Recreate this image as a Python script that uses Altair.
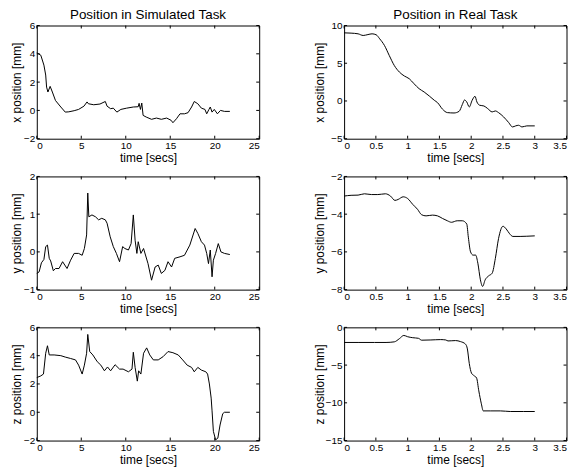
import altair as alt
import pandas as pd

FONT = "Liberation Sans"

# ---------------- data ----------------
sim_x_t = [0, 0.45, 0.8, 1.0, 1.1, 1.25, 1.5, 1.75, 2.1, 2.7, 3.2, 3.6, 4.2, 4.7, 5.3, 5.65, 5.8, 6.4, 7.1, 7.7,
           7.9, 8.3, 8.6, 9.0, 9.45, 10.1, 10.85, 11.4, 11.5, 11.65, 11.8, 11.95, 12.3, 12.9, 13.45, 14.0, 14.6,
           15.1, 15.3, 15.7, 16.1, 16.6, 17.0, 17.4, 17.7, 18.1, 18.5, 18.9, 19.1, 19.35, 19.5, 19.7, 19.95, 20.3,
           20.65, 21.1, 21.7]
sim_x_v = [4.07, 3.9, 3.2, 2.5, 1.65, 1.3, 1.7, 1.3, 0.7, 0.24, -0.12, -0.1, -0.02, 0.07, 0.3, 0.6, 0.47, 0.4,
           0.45, 0.63, 0.3, 0.12, 0.16, -0.12, 0.07, 0.16, 0.24, 0.26, 0.5, 0.07, 0.52, -0.35, -0.47, -0.63, -0.54,
           -0.63, -0.54, -0.7, -0.87, -0.59, -0.24, -0.24, -0.16, 0.24, 0.63, 0.47, 0.16, 0.07, -0.24, 0.07, 0.24,
           -0.12, 0.07, -0.24, 0, -0.07, -0.07]

sim_y_t = [0, 0.26, 0.52, 0.8, 1.0, 1.2, 1.4, 1.56, 1.86, 2.1, 2.5, 2.9, 3.4, 3.8, 4.2, 4.7, 5.1, 5.35, 5.6, 5.73,
           5.85, 6.2, 6.6, 6.95, 7.3, 7.7, 7.9, 8.25, 8.6, 8.95, 9.3, 9.65, 9.9, 10.3, 10.6, 10.85, 11.05, 11.25,
           11.4, 11.7, 12.0, 12.5, 12.9, 13.3, 13.65, 14.0, 14.4, 14.75, 15.15, 15.5, 16.1, 16.6, 17.2, 17.8, 18.1,
           18.5, 18.85, 19.1, 19.3, 19.5, 19.7, 19.85, 20.1, 20.4, 20.7, 21.1, 21.7]
sim_y_v = [-0.57, -0.53, -0.29, -0.2, 0.14, 0.18, -0.17, -0.24, -0.5, -0.44, -0.44, -0.26, -0.44, -0.22, -0.04,
           -0.04, -0.09, 0.09, 0.45, 1.56, 0.93, 0.98, 0.93, 0.85, 0.89, 0.85, 0.76, 0.4, 0.14, -0.04, -0.26, 0.14,
           0.09, 0.05, 0.22, 0.98, 0.31, -0.04, 0.27, -0.04, 0.09, -0.31, -0.75, -0.4, -0.35, -0.57, -0.49, -0.26,
           -0.4, -0.17, -0.13, -0.09, 0.18, 0.62, 0.49, 0.27, 0.18, -0.04, -0.31, 0.05, -0.66, -0.22, -0.04, 0.22,
           0, -0.04, -0.07]

sim_z_t = [0, 0.45, 0.75, 1.0, 1.2, 1.4, 1.95, 2.7, 3.2, 3.8, 4.35, 4.7, 5.1, 5.35, 5.6, 5.73, 5.95, 6.3, 6.8, 7.2,
           7.6, 7.95, 8.3, 8.8, 9.3, 9.7, 10.3, 10.7, 10.85, 11.05, 11.3, 11.45, 11.7, 12.0, 12.35, 12.7, 13.1,
           13.65, 14.2, 14.75, 15.3, 15.9, 16.4, 16.9, 17.4, 17.7, 18.1, 18.5, 19.0, 19.2, 19.4, 19.6, 19.7, 19.85,
           20.1, 20.35, 20.6, 20.9, 21.1, 21.7]
sim_z_v = [2.45, 2.57, 2.7, 4.17, 4.7, 4.05, 4.05, 4.0, 3.9, 3.8, 3.7, 3.33, 2.7, 3.33, 4.17, 5.5, 4.29, 4.05, 3.57,
           3.33, 2.93, 3.2, 2.93, 3.36, 3.05, 3.05, 2.86, 3.05, 4.24, 3.17, 2.2, 2.93, 2.7, 4.17, 4.55, 4.05, 3.7,
           3.7, 3.93, 4.29, 4.21, 4.05, 3.7, 3.33, 3.17, 2.86, 3.17, 2.98, 2.86, 2.7, 2.0, 1.0, 0.1, -1.35, -1.95,
           -1.83, -0.9, -0.1, 0, 0]

real_x_t = [0, 0.11, 0.22, 0.30, 0.375, 0.44, 0.505, 0.56, 0.635, 0.71, 0.79, 0.87, 0.95, 1.025, 1.1, 1.18, 1.26,
            1.34, 1.42, 1.47, 1.55, 1.625, 1.73, 1.81, 1.86, 1.895, 1.93, 1.97, 2.015, 2.06, 2.09, 2.135, 2.2,
            2.26, 2.33, 2.38, 2.43, 2.51, 2.59, 2.65, 2.70, 2.745, 2.8, 2.875, 3.0]
real_x_v = [9.03, 8.99, 8.9, 8.68, 8.8, 8.9, 8.77, 8.24, 7.36, 6.04, 4.7, 3.83, 3.3, 2.95, 2.29, 1.63, 1.19, 0.66,
            0.09, -0.22, -1.1, -1.54, -1.59, -1.37, -0.48, 0.13, -0.13, -0.79, 0.09, 0.62, -0.13, -0.57, -0.66,
            -1.01, -1.45, -1.32, -1.54, -2.11, -2.86, -3.44, -3.3, -3.22, -3.44, -3.3, -3.3]

real_y_t = [0, 0.11, 0.22, 0.32, 0.43, 0.53, 0.65, 0.73, 0.80, 0.85, 0.93, 1.0, 1.08, 1.155, 1.22, 1.29, 1.39,
            1.47, 1.55, 1.625, 1.69, 1.78, 1.86, 1.93, 1.955, 1.99, 2.03, 2.07, 2.105, 2.145, 2.18, 2.22, 2.275,
            2.33, 2.38, 2.43, 2.5, 2.55, 2.605, 2.655, 2.77, 2.875, 3.0]
real_y_v = [-3.04, -3.0, -2.99, -2.92, -2.96, -2.96, -2.92, -3.04, -3.27, -3.22, -3.08, -3.17, -3.48, -3.74, -4.03,
            -4.09, -4.05, -4.09, -4.23, -4.35, -4.43, -4.35, -4.35, -4.52, -5.22, -6.0, -6.17, -6.17, -6.6, -7.48,
            -7.83, -7.48, -7.27, -7.13, -6.35, -5.3, -4.64, -4.78, -5.04, -5.18, -5.18, -5.17, -5.15]

real_z_t = [0, 0.22, 0.48, 0.66, 0.79, 0.87, 0.94, 1.0, 1.08, 1.17, 1.22, 1.365, 1.52, 1.6, 1.635, 1.755, 1.83,
            1.91, 1.94, 1.97, 2.005, 2.04, 2.085, 2.12, 2.16, 2.19, 2.3, 2.46, 2.615, 2.82, 3.0]
real_z_v = [-2.0, -2.0, -2.0, -2.0, -1.92, -1.5, -1.07, -1.24, -1.37, -1.45, -1.7, -1.67, -1.62, -1.67, -1.8, -1.75,
            -1.88, -2.22, -2.86, -4.79, -6.07, -6.37, -6.71, -8.42, -10.13, -11.07, -11.07, -11.07, -11.15, -11.15,
            -11.15]

sim_xticks = [0, 5, 10, 15, 20, 25]
real_xticks = [0, 0.5, 1, 1.5, 2, 2.5, 3, 3.5]
sim_x_yticks = [-2, 0, 2, 4, 6]
sim_y_yticks = [-1, 0, 1, 2]
sim_z_yticks = [-2, 0, 2, 4, 6]
real_x_yticks = [-5, 0, 5, 10]
real_y_yticks = [-8, -6, -4, -2]
real_z_yticks = [-15, -10, -5, 0]

W, H = 224, 114
TL = 3  # inward tick length


def panel(t, v, xticks, yticks, ytitle, title_x, interp, title=None):
    xdom = [xticks[0], xticks[-1]]
    ydom = [yticks[0], yticks[-1]]
    xenc = alt.X("t:Q", scale=alt.Scale(domain=xdom, nice=False, zero=False),
                 axis=alt.Axis(values=xticks, title="time [secs]", format="~r"))
    yenc = alt.Y("v:Q", scale=alt.Scale(domain=ydom, nice=False, zero=False),
                 axis=alt.Axis(values=yticks, title=ytitle, titleX=title_x, titleBaseline="middle",
                               format="~r"))
    line = alt.Chart(pd.DataFrame({"t": t, "v": v})).mark_line(
        color="black", strokeWidth=1, interpolate=interp).encode(x=xenc, y=yenc)
    xt = pd.DataFrame({"t": xticks})
    yt = pd.DataFrame({"v": yticks})
    rs = dict(color="black", strokeWidth=1)
    bottom = alt.Chart(xt).mark_rule(**rs).encode(x=xenc, y=alt.value(H), y2=alt.value(H - TL))
    top = alt.Chart(xt).mark_rule(**rs).encode(x=xenc, y=alt.value(0), y2=alt.value(TL))
    left = alt.Chart(yt).mark_rule(**rs).encode(y=yenc, x=alt.value(0), x2=alt.value(TL))
    right = alt.Chart(yt).mark_rule(**rs).encode(y=yenc, x=alt.value(W), x2=alt.value(W - TL))
    ch = alt.layer(line, bottom, top, left, right).properties(width=W, height=H)
    if title:
        ch = ch.properties(title=alt.TitleParams(title, fontSize=13.5, font=FONT, fontWeight="normal",
                                                 color="black", offset=-1, anchor="middle"))
    return ch


panels = [
    panel(sim_x_t, sim_x_v, sim_xticks, sim_x_yticks, "x position [mm]", -20.5, "linear",
          "Position in Simulated Task"),
    panel(real_x_t, real_x_v, real_xticks, real_x_yticks, "x position [mm]", -25, "monotone",
          "Position in Real Task"),
    panel(sim_y_t, sim_y_v, sim_xticks, sim_y_yticks, "y position [mm]", -20.5, "linear"),
    panel(real_y_t, real_y_v, real_xticks, real_y_yticks, "y position [mm]", -25, "monotone"),
    panel(sim_z_t, sim_z_v, sim_xticks, sim_z_yticks, "z position [mm]", -20.5, "linear"),
    panel(real_z_t, real_z_v, real_xticks, real_z_yticks, "z position [mm]", -25, "monotone"),
]

chart = alt.concat(*panels, columns=2, spacing={"row": 6, "column": 52.5}).properties(
    padding={"left": 1, "top": -2, "right": 0, "bottom": 0}, background="white"
).configure_view(
    stroke="black", strokeWidth=1
).configure_axis(
    domain=False, ticks=False, tickSize=0, grid=False,
    labelFont=FONT, labelFontSize=10, labelColor="black", labelPadding=2,
    titleFont=FONT, titleFontSize=12, titleFontWeight="normal", titleColor="black", titlePadding=2,
)

chart.save("out.html", embed_options={"renderer": "svg", "actions": False})
